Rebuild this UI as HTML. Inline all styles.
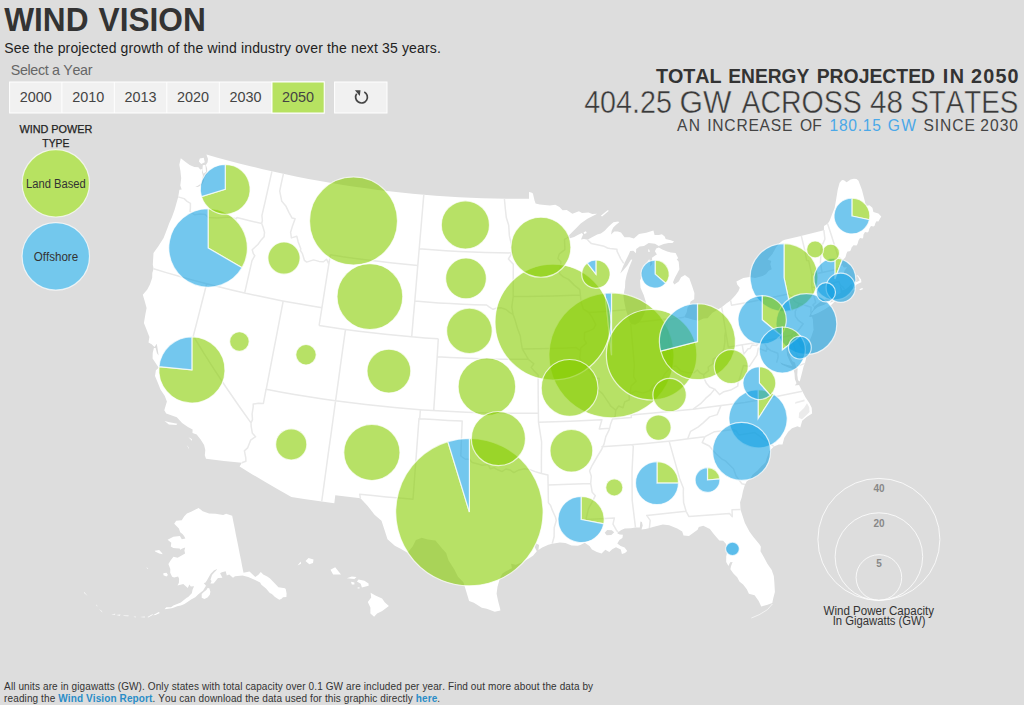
<!DOCTYPE html>
<html><head><meta charset="utf-8"><title>Wind Vision</title>
<style>
html,body{margin:0;padding:0;}
body{width:1024px;height:705px;overflow:hidden;background:#dddddd;font-family:"Liberation Sans",sans-serif;position:relative;}
svg{position:absolute;left:0;top:0;display:block;}
text{font-family:"Liberation Sans",sans-serif;font-kerning:none;}
</style></head><body>
<svg width="1024" height="705" viewBox="0 0 1024 705" xmlns="http://www.w3.org/2000/svg">
<!-- land -->
<path d="M180.8 158.2L185.6 161.9L189.7 165.0L194.3 167.1L198.4 167.2L200.2 169.6L202.1 169.0L202.1 172.5L202.9 175.5L202.3 179.9L200.5 184.0L197.4 185.9L195.2 186.8L197.7 186.9L201.8 185.0L203.7 181.3L204.4 177.8L207.3 173.4L207.1 168.4L205.9 165.0L207.6 162.2L208.0 159.0L206.4 154.5L217.6 157.7L228.8 160.7L240.1 163.7L251.5 166.5L262.8 169.2L274.2 171.8L285.6 174.3L297.0 176.7L308.5 178.9L320.0 181.0L331.5 183.0L343.0 184.9L354.5 186.7L366.1 188.3L377.7 189.9L389.2 191.3L400.8 192.6L412.5 193.7L424.1 194.8L435.7 195.7L447.4 196.5L459.0 197.2L470.7 197.7L482.3 198.2L494.0 198.5L505.7 198.7L517.4 198.8L529.0 198.7L529.0 192.1L531.3 192.4L532.9 193.4L534.6 200.8L535.6 203.6L539.8 204.6L544.6 205.0L549.9 205.4L555.3 204.7L559.5 206.9L562.6 210.3L566.8 210.1L572.4 213.7L578.9 211.3L582.0 212.9L588.5 212.5L592.3 214.1L597.1 213.7L595.3 214.7L587.4 218.8L580.7 223.6L576.1 228.3L571.8 232.6L567.9 236.6L566.8 238.1L569.2 238.4L574.1 237.1L577.7 234.9L581.9 233.1L583.1 234.5L581.0 239.6L584.0 238.9L587.5 239.7L592.5 237.1L597.2 234.5L600.8 233.4L604.4 231.0L608.9 226.2L613.4 222.3L618.2 221.5L619.3 222.3L616.1 224.7L613.3 227.6L611.7 230.8L611.1 234.5L614.2 231.5L617.9 231.5L621.0 232.6L624.5 237.3L629.5 237.2L633.9 238.6L639.0 234.1L646.3 232.8L653.4 230.4L654.6 235.1L658.9 235.1L661.9 234.2L664.7 236.6L665.7 239.1L670.8 240.3L674.1 241.6L672.4 243.1L668.6 243.1L663.7 243.9L658.7 245.9L655.0 243.7L648.7 243.1L644.0 245.9L639.7 246.6L636.2 249.1L636.0 253.2L633.3 250.8L630.2 251.1L628.6 254.8L624.4 263.3L622.8 267.0L620.2 273.5L623.1 270.5L627.1 265.7L631.0 259.4L632.3 259.8L629.2 267.3L626.7 274.7L625.3 281.1L625.0 287.4L623.4 295.6L624.1 301.0L625.9 310.0L628.1 316.8L629.5 321.2L631.1 324.1L635.1 324.7L638.9 322.7L639.9 321.9L643.5 315.4L645.9 309.7L646.2 303.0L643.7 295.0L640.5 287.8L640.0 280.6L642.1 275.9L642.4 270.0L643.9 265.0L647.1 262.8L649.2 259.0L650.3 263.4L649.8 266.7L652.3 264.0L652.0 257.8L655.1 255.6L656.9 254.5L654.9 251.2L656.2 248.4L658.8 247.5L662.3 249.4L667.2 251.5L670.9 252.5L675.6 253.1L678.2 258.2L676.7 259.3L678.7 261.7L679.4 269.3L677.6 272.7L675.0 277.5L673.0 282.3L674.3 284.4L678.7 281.5L681.1 277.2L684.9 274.9L689.3 278.3L692.1 286.0L694.4 292.9L694.2 299.3L690.6 301.6L689.7 304.8L687.5 307.5L686.8 312.1L684.1 317.3L688.3 318.2L692.4 319.5L694.5 320.1L698.6 320.8L703.6 318.4L707.6 318.2L712.2 312.9L718.3 309.2L721.7 307.2L726.6 303.3L730.6 300.4L735.2 295.6L738.4 291.2L739.8 287.7L737.2 284.5L736.4 281.4L743.3 278.1L749.6 276.9L755.1 278.1L762.6 276.0L766.1 274.0L768.7 270.7L771.7 269.2L770.3 264.0L771.3 261.1L767.7 259.6L772.4 254.1L776.1 247.2L779.1 243.4L782.4 240.7L784.8 239.8L797.8 236.7L810.9 233.5L823.9 230.2L824.0 225.9L827.6 223.7L829.5 221.0L832.0 214.5L834.7 207.7L836.1 199.7L837.7 189.8L839.6 182.8L842.0 179.9L844.0 180.2L846.6 182.2L850.6 179.5L853.9 178.7L856.5 179.0L858.5 180.8L861.9 189.8L864.5 199.7L865.9 206.1L869.4 205.3L872.4 207.7L873.4 212.0L878.4 213.6L881.3 216.6L879.5 219.5L878.4 221.6L876.5 221.2L875.4 223.1L874.6 225.8L873.4 226.5L871.0 226.0L869.4 228.5L868.6 231.5L867.4 232.5L865.0 232.0L863.5 234.5L863.2 237.5L862.5 238.4L860.0 238.0L858.5 240.4L857.5 244.0L856.5 245.4L853.5 245.2L851.6 247.4L850.6 250.5L849.6 251.3L847.5 251.5L846.6 253.3L845.5 257.0L844.6 258.3L842.0 260.3L842.1 264.7L843.8 267.4L847.1 267.3L844.6 270.6L843.5 274.0L848.0 275.6L850.5 279.6L853.6 282.0L856.7 282.1L859.7 280.5L857.9 276.6L855.6 275.9L857.8 275.3L861.1 279.4L861.4 282.3L857.0 284.3L852.6 287.4L851.6 283.5L848.4 287.0L845.6 289.3L842.5 290.6L841.3 287.6L839.7 285.2L840.4 288.8L840.7 293.0L836.1 295.3L833.0 296.3L828.0 298.1L823.0 299.7L819.5 302.4L814.3 306.5L813.1 310.1L811.5 311.8L810.8 312.9L810.0 314.5L809.2 316.9L812.0 316.8L812.9 319.7L813.2 325.2L813.6 329.7L812.0 334.7L811.0 337.6L808.3 343.0L806.0 346.6L804.6 342.3L800.9 341.3L796.2 339.2L794.9 336.4L795.2 339.4L798.3 342.4L800.0 346.7L803.2 348.7L804.4 349.4L806.2 355.4L806.1 358.2L805.0 363.1L803.6 366.5L801.7 373.9L799.7 381.4L798.0 380.2L797.3 374.9L797.6 368.4L795.8 366.6L795.0 362.5L792.5 361.2L790.3 357.1L790.2 353.4L788.5 350.1L789.2 345.3L789.6 340.7L788.5 339.0L786.8 344.0L785.8 346.0L786.7 350.1L787.0 355.0L789.6 360.9L792.2 366.0L788.5 365.3L783.2 363.7L780.1 362.3L782.0 364.8L789.0 367.8L793.5 369.2L794.5 373.6L794.9 379.1L796.5 383.3L794.8 385.5L799.0 385.0L802.3 391.3L805.3 397.1L809.6 403.5L811.7 407.7L812.1 413.5L806.6 417.0L802.2 420.7L800.3 427.6L797.5 426.3L792.0 428.3L788.2 431.8L784.2 438.1L782.5 444.5L778.8 444.6L773.9 446.5L769.5 450.9L766.9 457.8L765.5 462.6L761.6 466.0L757.8 470.3L752.5 474.8L750.2 478.8L746.8 481.2L745.0 484.6L743.0 490.9L741.7 497.4L740.1 502.2L740.5 509.4L742.1 514.6L744.9 523.1L749.4 531.5L753.4 537.1L759.4 544.3L760.9 546.7L760.5 551.3L763.8 557.0L767.4 563.7L771.7 570.1L773.8 576.0L774.4 583.1L774.9 592.0L773.2 598.5L772.3 603.1L767.6 604.8L761.2 606.4L758.7 600.9L754.6 595.3L748.9 593.8L746.8 589.3L743.1 584.5L739.4 581.5L737.2 577.3L733.4 573.4L730.4 569.3L730.9 566.6L732.6 561.9L730.2 562.2L728.4 566.0L726.2 561.9L726.2 556.5L727.4 550.9L726.1 543.9L723.2 540.7L719.3 540.4L713.7 534.0L709.9 529.1L703.3 525.8L698.8 526.9L697.6 529.7L689.0 536.1L683.5 535.5L682.2 531.5L677.2 528.5L669.2 525.2L662.9 524.6L653.9 526.7L649.4 528.0L645.6 529.1L641.5 529.6L642.7 525.6L641.9 522.0L640.4 521.6L639.8 527.6L635.5 527.6L630.9 528.3L624.8 528.4L621.3 529.9L618.1 532.3L617.4 533.4L619.8 534.5L622.9 534.8L622.4 537.9L619.4 539.9L617.3 543.6L620.6 546.1L624.6 547.6L627.2 550.9L625.0 552.9L621.9 554.0L620.8 549.6L616.0 547.3L612.2 549.3L609.3 552.1L605.3 549.7L601.6 553.5L596.8 552.0L592.0 549.5L589.5 546.1L584.7 542.7L580.9 544.7L577.8 545.7L571.6 545.4L565.4 543.1L559.9 542.4L552.2 543.8L548.4 544.8L542.2 547.6L538.4 550.0L539.1 545.0L536.0 543.2L534.5 546.8L536.8 551.2L533.0 555.7L528.3 558.8L520.5 562.9L515.8 564.7L511.1 563.8L511.9 568.2L506.4 570.9L502.4 573.5L500.0 577.9L497.5 586.7L496.6 593.8L498.1 600.9L500.1 608.5L500.4 610.5L494.7 611.8L486.7 608.7L481.8 607.7L473.9 602.7L469.1 601.1L466.7 593.1L463.4 582.3L458.0 576.8L454.4 569.5L448.5 560.3L446.2 553.1L442.1 548.4L435.5 540.6L427.8 539.6L421.8 537.8L415.9 539.9L412.6 546.6L407.5 552.8L401.5 549.3L394.8 545.8L387.5 539.2L385.1 531.8L381.5 520.7L374.5 514.7L367.7 505.9L360.5 498.3L347.9 496.8L335.3 495.2L334.3 503.2L320.0 501.3L305.7 499.2L291.4 497.0L278.2 489.6L265.3 482.1L252.4 474.4L239.6 466.6L241.8 462.8L223.9 460.9L206.0 458.7L204.8 455.3L205.3 449.9L204.1 445.0L200.8 439.7L196.7 434.6L192.5 433.1L192.6 429.4L187.9 427.0L182.1 423.1L176.8 417.2L166.2 413.5L164.3 410.2L166.9 401.6L164.8 396.0L160.5 389.5L157.7 382.4L155.0 376.0L155.9 370.3L158.8 367.7L156.4 364.3L152.6 358.5L152.7 352.9L153.9 348.0L155.6 348.1L157.0 353.2L158.6 355.5L157.6 348.7L156.8 343.8L154.5 346.9L151.6 344.2L148.5 342.4L149.4 337.0L146.1 328.5L143.9 323.1L145.4 314.2L146.6 308.0L144.9 301.8L142.8 294.8L147.3 289.4L149.9 284.6L152.2 277.8L152.3 273.1L153.6 268.8L152.8 264.8L153.5 253.0L158.5 245.9L163.6 238.1L166.8 229.8L169.3 223.0L171.9 217.3L174.6 209.8L176.8 202.1L178.2 196.9L179.4 189.8L181.7 189.6L180.3 185.5L181.2 178.3L180.4 170.7L179.3 164.8L180.8 158.2ZM811.0 314.3L813.9 310.3L817.9 307.1L824.8 304.5L830.1 300.7L831.8 299.4L830.0 303.0L836.7 299.6L831.2 305.1L825.3 309.0L818.0 313.0L812.3 315.3ZM851.8 290.2L853.8 287.6L855.8 288.7L853.2 290.4ZM859.3 289.2L862.1 287.9L863.3 289.0L860.3 290.2ZM600.8 215.8L607.6 210.3L608.9 210.7L602.1 216.4ZM164.5 420.9L169.5 422.3L177.4 423.8L176.3 425.0L168.9 424.4ZM188.5 437.3L192.1 440.9L191.8 439.0ZM186.6 445.1L189.3 449.5L188.4 446.9ZM199.8 158.4L203.7 157.7L204.8 162.3L201.2 164.0L198.9 161.5ZM202.8 165.2L205.4 164.8L206.1 171.8L203.4 173.8L202.4 169.9ZM648.1 249.3L649.4 249.7L649.7 252.1L648.4 251.9ZM583.6 232.3L586.0 231.3L586.7 233.0L584.3 234.1ZM232.2 515.7L233.4 522.0L234.7 528.3L235.9 534.7L237.2 541.0L238.5 547.4L239.7 553.7L241.0 560.1L242.2 566.5L243.5 572.8L249.5 571.6L255.3 576.9L258.4 574.8L260.8 571.9L263.2 574.4L267.2 576.5L269.8 578.3L276.1 584.8L278.4 587.3L285.0 588.2L285.8 589.3L286.6 593.6L286.4 597.0L283.0 597.3L281.6 598.7L279.3 599.8L275.0 597.0L271.9 594.0L269.8 592.9L266.0 588.6L261.4 584.7L260.1 582.5L255.1 579.9L248.2 577.0L242.5 575.6L235.0 576.2L233.0 577.8L229.2 574.5L226.8 575.4L225.7 571.2L221.9 572.2L220.1 573.3L222.4 577.8L218.0 578.1L214.8 582.1L213.5 583.4L210.4 583.5L211.6 581.0L210.5 579.8L212.0 575.0L214.6 572.1L216.0 570.7L217.1 569.1L213.9 570.5L210.7 573.8L208.7 577.3L206.9 580.5L205.3 582.7L203.7 583.0L206.0 585.8L203.1 590.5L198.4 594.2L195.3 597.2L191.1 599.5L188.6 601.3L184.5 604.1L180.8 605.6L177.2 606.2L172.7 607.9L170.1 608.4L164.5 609.2L166.3 607.2L171.0 607.3L173.4 605.4L177.1 604.0L180.8 602.5L186.7 597.7L188.2 596.9L191.8 593.3L192.6 589.6L194.1 586.2L190.8 586.4L189.4 584.4L187.8 588.1L183.3 583.9L177.5 585.5L178.9 582.8L179.1 578.7L178.1 576.4L174.2 577.5L172.1 576.8L170.2 572.7L170.3 568.9L168.4 564.1L170.9 560.1L173.5 556.8L177.6 557.7L181.6 555.4L185.1 553.5L184.4 550.4L185.2 547.6L182.4 548.6L180.1 549.8L179.7 548.5L175.7 548.3L173.3 547.9L170.8 546.5L171.3 542.7L167.6 539.8L173.4 536.8L179.9 536.0L181.8 539.2L185.4 538.6L184.2 536.2L182.7 534.2L180.2 532.3L178.9 528.4L174.2 523.7L176.2 520.7L181.8 520.3L184.1 516.6L186.9 513.4L191.1 511.8L198.6 507.9L202.7 511.2L209.1 513.5L215.5 513.8L223.2 515.1L226.1 513.8ZM209.3 588.3L210.4 591.7L209.8 594.8L207.5 597.4L204.4 599.0L201.7 597.7L201.7 594.0L204.1 591.8L206.4 589.9L207.6 588.0ZM163.3 573.3L166.5 572.7L168.0 574.9L166.4 576.5L163.5 575.3ZM154.7 550.7L159.2 550.0L162.2 553.3L162.5 554.3L159.2 553.5L155.1 551.5ZM146.4 567.2L148.3 568.4L147.2 568.8ZM152.9 615.2L158.8 612.0L159.8 613.1L155.6 615.1ZM147.5 616.9L152.8 613.9L152.6 615.1L148.2 617.4ZM140.1 617.0L144.9 616.6L144.7 617.5ZM133.4 616.8L135.9 616.5L135.6 617.4ZM123.0 615.5L128.7 615.4L128.4 616.2L124.0 616.1ZM116.1 615.1L120.4 614.6L120.0 615.8ZM111.1 614.2L115.4 613.8L115.0 614.7ZM102.5 612.4L98.9 608.9L101.8 611.1ZM97.6 606.2L96.3 604.3L96.7 606.2ZM87.7 595.9L83.9 591.7L84.1 592.9ZM370.6 592.8L375.4 595.5L382.1 598.5L384.7 602.3L388.9 606.0L382.2 610.9L377.1 613.6L374.1 616.8L370.4 613.6L370.4 607.4L367.8 602.1L371.2 597.6ZM356.9 581.4L358.5 579.4L364.4 580.8L368.6 583.5L368.6 585.8L361.9 587.4L360.7 583.8ZM346.8 578.2L351.8 576.4L356.5 577.1L354.4 579.1ZM351.0 581.7L354.4 582.6L354.4 584.4L351.8 584.4ZM356.9 587.9L359.4 587.0L359.4 588.8ZM330.5 569.8L335.2 567.3L341.0 574.6L336.0 574.6L333.1 574.6ZM305.5 561.1L308.5 558.0L313.5 559.4L313.0 563.0L309.3 564.3ZM297.6 565.4L300.7 561.6L301.0 563.7Z" fill="#ffffff" stroke="none"/>
<path d="M604.7 532.8L607.2 529.9L611.8 530.2L614.2 532.2L611.3 535.1L606.7 535.3Z" fill="#dddddd"/><path d="M807.0 403.2L804.0 408.0L799.1 412.7L798.7 417.8L801.9 419.3L805.0 416.5L809.5 412.0L809.2 407.3ZM804.3 399.5L795.4 402.1L795.0 403.7L804.7 401.3Z" fill="#dddddd" fill-opacity="0.6"/>
<path d="M772.4 604.0L767.5 609.6L759.2 614.7L751.4 618.0" fill="none" stroke="#ffffff" stroke-width="0.9" stroke-opacity="0.7"/>
<!-- state borders -->
<path d="M178.2 196.9L184.1 198.6L187.1 201.4L190.4 203.3L190.4 207.9L190.0 211.5L194.9 214.8L200.3 213.9L205.3 214.5L208.4 217.6L217.2 218.1L223.8 217.6L229.1 217.1L236.3 218.8L236.9 217.6L248.7 220.5L261.7 223.5M271.9 171.3L268.6 186.1L265.3 200.8L261.9 215.7L262.4 220.5L261.7 223.5M261.7 223.5L262.8 226.4L264.5 232.3L264.1 236.8L260.7 240.6L257.9 244.5L252.2 249.7L253.3 253.6L254.8 255.7L252.0 260.6L248.3 276.8L244.7 292.9M153.6 268.8L166.3 272.6L179.1 276.3L191.9 279.9L204.8 283.3L217.7 286.5L230.6 289.7L243.5 292.7L256.5 295.5L269.6 298.3L282.6 300.9L295.7 303.3L308.8 305.6L321.9 307.8M206.7 283.8L202.2 301.2L197.8 318.6L193.3 336.0L204.1 353.6L215.3 371.1L226.9 388.5L238.8 405.8L251.0 422.9M251.0 422.9L251.2 426.6L252.4 433.3L255.6 436.7L250.6 440.2L247.6 447.9L244.4 450.9L245.8 458.0L245.9 461.3L241.8 462.8M251.0 422.9L252.5 419.6L252.1 414.0L253.2 406.9L253.2 404.1L258.3 403.3L263.4 403.4L266.1 389.2M283.2 301.0L279.8 318.6L276.4 336.3L273.0 353.9L269.6 371.6L266.2 389.3M266.1 389.2L280.2 391.9L294.4 394.4L308.7 396.7L322.9 398.9L337.2 400.9L351.5 402.8L365.8 404.5L380.1 406.1L394.5 407.5L408.8 408.8L423.2 409.9L437.6 410.8L452.0 411.6L466.4 412.3L480.8 412.8L495.2 413.1L509.6 413.3L524.0 413.3L538.4 413.2M335.6 400.7L338.1 382.9L340.5 365.1L343.0 347.2L345.5 329.4M319.1 325.5L332.2 327.5L345.5 329.4L358.7 331.2L371.9 332.8L385.2 334.3L398.4 335.6L411.7 336.8L425.0 337.9L438.3 338.8M319.1 325.5L321.9 307.8L324.7 290.1L327.5 272.4L330.4 254.7M330.4 254.7L342.8 256.7L355.3 258.4L367.7 260.1L380.2 261.6L392.7 263.0L405.3 264.3L417.8 265.4M283.4 173.8L281.5 182.4L279.7 191.1L281.8 201.3L285.8 205.9L288.9 212.3L292.1 218.1L295.1 218.7L292.4 226.3L290.6 232.3L291.4 237.9L296.8 236.2L298.2 241.9L300.8 248.7L300.4 250.5L302.4 253.6L304.4 260.3L306.7 262.1L313.5 259.9L319.0 261.4L323.5 261.8L326.5 259.2L328.9 264.1M423.8 194.7L422.3 212.3L420.8 230.0L419.3 247.7L417.8 265.4L416.3 283.2L414.8 301.1L413.2 318.9L411.7 336.8M419.2 248.7L432.4 249.8L445.7 250.7L458.9 251.4L472.2 252.0L485.5 252.5L498.7 252.8L512.0 252.9M414.8 301.1L426.7 302.0L438.7 302.9L450.6 303.6L462.6 304.2L474.6 304.7L486.6 305.0L489.1 306.9L493.0 309.3L496.9 308.0L500.8 307.7L506.0 309.5L509.8 312.6L513.1 314.4M438.3 338.8L437.2 356.7L436.0 374.7L434.9 392.6L433.7 410.6M437.2 356.7L450.2 357.5L463.2 358.1L476.3 358.6L489.3 359.0L502.3 359.2L515.4 359.3L528.4 359.3M335.6 400.7L333.3 417.5L331.0 434.4L328.6 451.2L326.3 468.0L324.0 484.8L321.7 501.5M420.4 409.7L419.7 418.7L419.0 418.6L417.8 434.7L416.6 450.9L415.4 467.0L414.2 483.1L413.0 499.2L399.7 498.1L386.3 496.9L372.9 495.6L359.6 494.2L360.5 498.3M419.7 418.7L433.9 419.6L448.0 420.4L462.2 421.1L461.5 438.5L460.8 456.0L465.0 459.0L469.4 459.2L472.2 462.5L478.0 464.0L482.3 465.3L488.2 464.6L490.3 468.8L494.0 467.6L497.7 469.8L502.0 471.6L505.8 469.0L510.1 469.9L513.8 472.6L519.0 469.9L524.8 468.7L529.2 469.4L535.1 471.6L541.4 473.5M541.4 473.5L541.4 458.1L541.6 441.9L538.5 422.2L538.4 413.2M541.4 473.5L547.9 475.0L548.1 484.5L548.4 502.8L550.6 505.4L552.2 509.9L555.4 517.0L556.3 520.5L554.2 527.7L554.1 536.7L552.2 543.8M548.1 484.9L562.3 484.5L576.5 484.0L590.7 483.4M559.4 273.5L563.3 276.9L568.5 279.4L574.5 285.4L579.8 289.6L580.4 295.0L581.1 302.1L583.4 309.2L588.8 312.5L592.3 317.7L595.8 324.6L593.7 328.7L590.4 330.4L584.6 332.5L584.3 339.7L586.5 343.2L580.7 348.0L580.6 351.0L579.8 357.9L582.1 363.2L585.6 365.7L591.5 373.5L593.1 377.6L599.4 378.5L599.1 381.5L597.3 389.4L602.4 393.6L610.1 404.8L610.2 405.7L615.7 410.2L615.2 416.2L612.5 419.1L610.7 423.7L609.6 428.3L609.0 430.1L605.8 436.6L604.1 443.9L601.6 449.5L597.6 456.0L592.2 465.3L589.6 470.9L591.3 476.2L590.7 483.4L592.2 492.3L595.3 495.7L592.6 501.2L588.5 508.6L585.9 519.5M585.9 519.5L614.4 517.9L613.0 524.2L616.4 530.2L618.1 532.3M609.6 428.3L599.3 428.9L601.9 419.8L586.1 420.6L570.2 421.3L554.4 421.8L538.5 422.2M538.4 413.2L538.2 395.2L538.1 375.0L534.0 370.9L531.2 367.4L533.9 363.8L528.4 359.3L522.3 348.9L521.0 341.4L520.3 336.0L517.6 328.8L515.0 319.8L513.1 314.4M513.1 314.4L511.8 307.2L513.2 296.5L513.3 264.3L508.4 259.0L512.0 252.9L511.6 245.6L509.4 235.9L508.7 225.2L506.3 217.6L505.2 207.5L504.4 198.7M513.2 296.5L526.6 296.5L540.1 296.3L553.5 296.0L567.0 295.6L580.4 295.0M522.3 348.9L535.8 348.8L549.3 348.6L562.8 348.2L576.2 347.6L580.6 351.0M566.8 238.1L564.5 239.3L564.9 249.6L559.3 253.9L557.9 258.4L560.9 261.8L559.9 269.0L559.4 273.5M588.8 312.5L601.1 311.7L613.5 310.8L625.9 309.8M630.7 323.8L632.6 345.3L634.4 365.9L633.9 370.4L633.7 376.8L636.2 381.1L631.1 386.0L630.2 392.4L629.0 394.3M615.7 410.2L618.7 406.0L623.0 407.8L624.7 401.9L629.4 399.7L629.0 394.3L635.7 391.1L642.9 393.1L649.6 390.7L653.3 385.8L660.0 382.9L664.6 374.1L671.7 366.5L676.1 366.0L680.8 370.9L687.3 372.8L693.6 372.8L697.4 370.0L699.9 372.9L703.6 374.7L708.6 370.7L708.1 367.2L713.1 363.7L713.2 359.1L715.7 357.5L720.0 354.4L723.8 349.3L724.9 341.8L724.9 335.4L725.6 331.0M721.7 307.2L725.0 327.2L728.3 347.3M728.3 347.3L740.9 345.1L753.6 342.9L766.2 340.5L778.8 338.0L791.4 335.3M742.2 344.9L743.8 354.1L748.1 348.8L750.1 348.4L752.1 345.0L756.5 345.4L759.4 342.5L764.4 343.0L767.1 347.6L770.7 350.6L774.5 352.0L777.7 353.2L778.2 356.8L776.6 362.6M671.7 366.5L669.9 351.1L668.1 335.6L666.3 320.1M639.9 321.9L666.1 319.0L666.3 320.1L684.1 317.3M612.5 419.1L631.4 417.6L631.1 414.9L653.3 412.9L674.5 411.1L693.1 409.2L709.6 406.9L721.1 405.4L744.8 402.4L772.7 397.3L802.3 391.3M693.1 409.2L700.6 403.7L705.6 398.4L710.6 394.1L714.6 389.1L709.6 387.0L706.2 382.9L704.2 378.6L703.6 374.7M714.6 389.1L719.5 394.6L723.8 391.7L730.6 390.1L737.8 386.2L738.0 383.4L740.8 374.7L743.4 365.5L749.4 366.3L753.4 360.3L756.9 355.1L758.4 348.2L766.2 351.3L767.1 347.6M601.4 446.8L616.2 445.8L631.1 444.7L645.9 443.4L660.7 442.0L675.5 440.4L690.2 438.6L705.0 436.7M687.6 439.1L690.6 431.3L698.0 427.2L703.2 422.9L709.6 416.9L717.2 414.6L721.1 405.4M705.0 436.7L702.2 442.5L709.3 446.0L715.5 453.3L721.5 458.8L725.5 460.9L733.5 468.8L736.0 475.7L741.9 483.8L745.0 484.6M705.0 436.7L714.6 431.7L734.0 429.6L734.3 431.4L735.9 430.3L738.8 434.9L754.8 432.6L773.9 446.5M631.7 444.7L633.3 446.3L632.0 471.7L632.2 500.4L635.5 527.6M669.2 441.4L679.6 478.4L683.4 488.2L683.3 493.6L683.6 502.6L686.1 511.3M649.4 528.0L650.2 520.4L646.7 515.4L686.1 511.3L688.8 516.4L709.6 514.9L729.5 513.6L732.3 516.8L732.0 509.7L740.5 509.4M796.0 332.8L793.4 332.7L791.4 335.3L794.6 347.9L797.4 357.2L806.2 355.4M796.9 366.3L800.2 365.1L805.1 363.4M794.9 336.4L796.0 332.8L799.2 329.3L803.2 323.8L798.3 320.3L795.4 316.4L795.2 311.5L799.3 303.5L796.3 302.4L793.8 300.2L793.0 296.7L788.2 294.1L774.1 297.1L759.9 300.0L745.7 302.7L731.5 305.2L730.6 300.4M799.3 303.5L811.1 307.2L810.8 312.9M814.3 306.5L812.9 305.0L815.7 302.5L811.8 287.7L811.8 274.8L808.7 260.8L806.6 260.4L804.7 249.8L801.3 235.9M822.1 272.6L820.4 262.5L820.9 254.0L821.2 247.5L824.9 239.1L824.4 234.7L823.8 230.0M811.8 274.8L822.1 272.6L836.9 269.3L837.3 268.4L839.9 265.4L842.1 264.7M811.8 287.7L833.6 282.8L839.0 281.4L839.5 283.4L840.7 285.4L842.9 286.8L844.7 289.5M833.6 282.8L836.4 293.2L836.1 295.3M827.6 223.7L831.2 234.7L835.8 249.2L838.0 257.0L840.5 258.7L842.3 261.0M587.5 239.7L591.4 243.6L604.2 246.3L607.5 248.0L610.0 248.5L616.9 249.2L617.1 251.4L620.9 259.1L623.7 263.3" fill="none" stroke="#e9e9e9" stroke-width="1.5" stroke-linejoin="round"/>
<!-- bubbles -->
<g fill-opacity="0.58" stroke="#ffffff" stroke-opacity="0.72" stroke-width="1.2">
<path d="M469.40 512.10L469.40 438.40A73.70 73.70 0 1 1 447.85 441.62Z" fill="#87cd00" fill-opacity="0.6"/><path d="M469.40 512.10L447.85 441.62A73.70 73.70 0 0 1 469.40 438.40Z" fill="#0e9ee2"/>
<path d="M611.50 355.30L611.50 292.80A62.50 62.50 0 1 1 604.97 293.14Z" fill="#87cd00" fill-opacity="0.6"/><path d="M611.50 355.30L604.97 293.14A62.50 62.50 0 0 1 611.50 292.80Z" fill="#0e9ee2"/>
<circle cx="552.9" cy="322.1" r="57.9" fill="#87cd00" fill-opacity="0.6"/>
<circle cx="651.6" cy="354.75" r="45.25" fill="#87cd00" fill-opacity="0.6"/>
<circle cx="353.5" cy="221" r="44" fill="#87cd00" fill-opacity="0.6"/>
<path d="M208.10 248.00L208.10 208.70A39.30 39.30 0 0 1 242.13 267.65Z" fill="#87cd00" fill-opacity="0.6"/><path d="M208.10 248.00L242.13 267.65A39.30 39.30 0 1 1 208.10 208.70Z" fill="#0e9ee2"/>
<path d="M697.50 341.60L697.50 303.60A38.00 38.00 0 1 1 660.71 351.11Z" fill="#87cd00" fill-opacity="0.6"/><path d="M697.50 341.60L660.71 351.11A38.00 38.00 0 0 1 697.50 303.60Z" fill="#0e9ee2"/>
<path d="M784.00 277.50L784.00 243.60A33.90 33.90 0 0 1 791.05 310.66Z" fill="#87cd00" fill-opacity="0.6"/><path d="M784.00 277.50L791.05 310.66A33.90 33.90 0 1 1 784.00 243.60Z" fill="#0e9ee2"/>
<path d="M191.90 369.90L191.90 336.80A33.10 33.10 0 1 1 158.96 366.61Z" fill="#87cd00" fill-opacity="0.6"/><path d="M191.90 369.90L158.96 366.61A33.10 33.10 0 0 1 191.90 336.80Z" fill="#0e9ee2"/>
<circle cx="369.9" cy="296.6" r="32.9" fill="#87cd00" fill-opacity="0.6"/>
<circle cx="806.4" cy="324" r="30.4" fill="#0e9ee2"/>
<circle cx="540.9" cy="247.25" r="30" fill="#87cd00" fill-opacity="0.6"/>
<path d="M758.10 418.75L758.10 389.65A29.10 29.10 0 0 1 773.86 394.29Z" fill="#87cd00" fill-opacity="0.6"/><path d="M758.10 418.75L773.86 394.29A29.10 29.10 0 1 1 758.10 389.65Z" fill="#0e9ee2"/>
<circle cx="741.6" cy="451.4" r="29.0" fill="#0e9ee2"/>
<circle cx="486.9" cy="386.75" r="28.8" fill="#87cd00" fill-opacity="0.6"/>
<circle cx="569.6" cy="387.9" r="28.4" fill="#87cd00" fill-opacity="0.6"/>
<circle cx="371.9" cy="452.4" r="28.1" fill="#87cd00" fill-opacity="0.6"/>
<circle cx="498.4" cy="438.6" r="27.1" fill="#87cd00" fill-opacity="0.6"/>
<path d="M225.25 189.30L225.25 164.40A24.90 24.90 0 1 1 201.44 196.58Z" fill="#87cd00" fill-opacity="0.6"/><path d="M225.25 189.30L201.44 196.58A24.90 24.90 0 0 1 225.25 164.40Z" fill="#0e9ee2"/>
<circle cx="465.4" cy="224.9" r="24.1" fill="#87cd00" fill-opacity="0.6"/>
<path d="M762.20 319.80L762.20 295.70A24.10 24.10 0 0 1 780.66 335.29Z" fill="#87cd00" fill-opacity="0.6"/><path d="M762.20 319.80L780.66 335.29A24.10 24.10 0 1 1 762.20 295.70Z" fill="#0e9ee2"/>
<path d="M581.10 519.50L581.10 496.40A23.10 23.10 0 0 1 603.79 523.81Z" fill="#87cd00" fill-opacity="0.6"/><path d="M581.10 519.50L603.79 523.81A23.10 23.10 0 1 1 581.10 496.40Z" fill="#0e9ee2"/>
<path d="M782.30 350.00L782.30 327.00A23.00 23.00 0 0 1 800.42 335.84Z" fill="#87cd00" fill-opacity="0.6"/><path d="M782.30 350.00L800.42 335.84A23.00 23.00 0 1 1 782.30 327.00Z" fill="#0e9ee2"/>
<circle cx="469.4" cy="330.9" r="22.8" fill="#87cd00" fill-opacity="0.6"/>
<circle cx="388.9" cy="371.1" r="21.9" fill="#87cd00" fill-opacity="0.6"/>
<path d="M657.00 483.10L657.00 461.60A21.50 21.50 0 0 1 678.50 483.10Z" fill="#87cd00" fill-opacity="0.6"/><path d="M657.00 483.10L678.50 483.10A21.50 21.50 0 1 1 657.00 461.60Z" fill="#0e9ee2"/>
<circle cx="571.4" cy="450.7" r="21.4" fill="#87cd00" fill-opacity="0.6"/>
<path d="M834.90 279.00L834.90 258.10A20.90 20.90 0 0 1 842.39 259.49Z" fill="#87cd00" fill-opacity="0.6"/><path d="M834.90 279.00L842.39 259.49A20.90 20.90 0 1 1 834.90 258.10Z" fill="#0e9ee2"/>
<circle cx="466" cy="278.4" r="20.4" fill="#87cd00" fill-opacity="0.6"/>
<path d="M851.90 216.00L851.90 198.10A17.90 17.90 0 0 1 869.41 219.72Z" fill="#87cd00" fill-opacity="0.6"/><path d="M851.90 216.00L869.41 219.72A17.90 17.90 0 1 1 851.90 198.10Z" fill="#0e9ee2"/>
<circle cx="731.25" cy="366.6" r="17" fill="#87cd00" fill-opacity="0.6"/>
<circle cx="669.6" cy="395" r="16.7" fill="#87cd00" fill-opacity="0.6"/>
<path d="M759.40 383.10L759.40 366.70A16.40 16.40 0 0 1 770.37 395.29Z" fill="#87cd00" fill-opacity="0.6"/><path d="M759.40 383.10L770.37 395.29A16.40 16.40 0 1 1 759.40 366.70Z" fill="#0e9ee2"/>
<circle cx="284" cy="258.1" r="16.1" fill="#87cd00" fill-opacity="0.6"/>
<circle cx="291.25" cy="444.4" r="15.6" fill="#87cd00" fill-opacity="0.6"/>
<circle cx="840.7" cy="287.75" r="14.6" fill="#0e9ee2"/>
<path d="M595.90 274.10L595.90 259.90A14.20 14.20 0 1 1 587.16 262.91Z" fill="#87cd00" fill-opacity="0.6"/><path d="M595.90 274.10L587.16 262.91A14.20 14.20 0 0 1 595.90 259.90Z" fill="#0e9ee2"/>
<path d="M655.10 274.10L655.10 260.10A14.00 14.00 0 0 1 665.67 283.28Z" fill="#87cd00" fill-opacity="0.6"/><path d="M655.10 274.10L665.67 283.28A14.00 14.00 0 1 1 655.10 260.10Z" fill="#0e9ee2"/>
<circle cx="658.4" cy="427.6" r="12.7" fill="#87cd00" fill-opacity="0.6"/>
<path d="M707.50 480.00L707.50 467.60A12.40 12.40 0 0 1 719.85 478.92Z" fill="#87cd00" fill-opacity="0.6"/><path d="M707.50 480.00L719.85 478.92A12.40 12.40 0 1 1 707.50 467.60Z" fill="#0e9ee2"/>
<circle cx="799.9" cy="347.6" r="11.4" fill="#0e9ee2"/>
<circle cx="306" cy="354.75" r="10.25" fill="#87cd00" fill-opacity="0.6"/>
<circle cx="239.4" cy="341.5" r="9.8" fill="#87cd00" fill-opacity="0.6"/>
<circle cx="825.9" cy="292.3" r="9.6" fill="#0e9ee2"/>
<circle cx="830.8" cy="252.9" r="8.75" fill="#87cd00" fill-opacity="0.6"/>
<circle cx="614.3" cy="487.4" r="8.6" fill="#87cd00" fill-opacity="0.6"/>
<circle cx="815.1" cy="249.4" r="8.5" fill="#87cd00" fill-opacity="0.6"/>
<circle cx="732.5" cy="548.9" r="6.8" fill="#0e9ee2" fill-opacity="0.68"/>
</g>
<!-- size legend -->
<g fill="none" stroke="#ffffff" stroke-width="1" stroke-opacity="0.8">
<circle cx="878.9" cy="539.4" r="61"/><circle cx="878.9" cy="556.6" r="43.8"/><circle cx="878.9" cy="577.5" r="22.8"/>
</g>
<g font-size="10" fill="#888888" text-anchor="middle" font-weight="bold">
<text x="879" y="491.6">40</text><text x="879" y="526.9">20</text><text x="879" y="567.4">5</text>
</g>
<g font-size="12" fill="#333333">
<text x="823.5" y="615.2" textLength="110.5" lengthAdjust="spacingAndGlyphs">Wind Power Capacity</text>
<text x="832.7" y="625.4" textLength="92.8" lengthAdjust="spacingAndGlyphs">In Gigawatts (GW)</text>
<text x="19.4" y="133" font-size="11.4" textLength="73" lengthAdjust="spacingAndGlyphs" fill="#222222" stroke="#222222" stroke-width="0.25">WIND POWER</text>
<text x="42.3" y="146.9" font-size="11.4" textLength="27.2" lengthAdjust="spacingAndGlyphs" fill="#222222" stroke="#222222" stroke-width="0.25">TYPE</text>
</g>
<!-- type legend -->
<g stroke="#ffffff" stroke-opacity="0.7" stroke-width="1.2">
<circle cx="55.8" cy="183.3" r="33.7" fill="#b7e261"/><circle cx="55.8" cy="256.4" r="33.7" fill="#73c8ed"/>
</g>
<g font-size="12" fill="#333333">
<text x="26.1" y="188.2" textLength="59.6" lengthAdjust="spacingAndGlyphs">Land Based</text>
<text x="33.7" y="260.9" textLength="44.5" lengthAdjust="spacingAndGlyphs">Offshore</text>
</g>
<!-- header left -->
<text transform="translate(4.27,30.5) scale(0.9754,1)" font-size="32.4" font-weight="bold" fill="#333333">WIND</text><text transform="translate(98.58,30.5) scale(0.9765,1)" font-size="32.4" font-weight="bold" fill="#333333">VISION</text>
<text x="4.3" y="52.9" font-size="14" fill="#222222" textLength="436.5">See the projected growth of the wind industry over the next 35 years.</text>
<text x="10.7" y="74.7" font-size="14.3" fill="#666666" textLength="81.7">Select a Year</text>
<!-- year buttons -->
<g stroke="#ffffff" stroke-width="1" fill="#f1f1f1">
<rect x="9.6" y="82" width="314.6" height="31"/>
<rect x="271.8" y="82" width="52.4" height="31" fill="#b7e261"/>
<path d="M61.9 82V113M114.3 82V113M166.8 82V113M219.3 82V113M271.8 82V113" fill="none"/>
<rect x="334.6" y="82" width="52.4" height="31"/>
</g>
<g font-size="14.4" fill="#444444" text-anchor="middle">
<text x="35.8" y="101.6">2000</text><text x="88.2" y="101.6">2010</text><text x="140.6" y="101.6">2013</text><text x="193" y="101.6">2020</text><text x="245.5" y="101.6">2030</text><text x="298" y="101.6">2050</text>
</g>
<g fill="none" stroke="#454545" stroke-width="1.7">
<path d="M364.27 91.89A5.9 5.9 0 1 1 356.67 93.72"/><path d="M354.9 90.2L360.5 90.2L359.8 95.9Z" fill="#454545" stroke="none"/>
</g>
<!-- header right -->
<text transform="translate(655.88,82.6) scale(0.9977,1)" font-size="19.8" font-weight="bold" fill="#333333">TOTAL</text>
<text transform="translate(728.21,82.6) scale(0.9710,1)" font-size="19.8" font-weight="bold" fill="#333333">ENERGY</text>
<text transform="translate(816.70,82.6) scale(0.9792,1)" font-size="19.8" font-weight="bold" fill="#333333">PROJECTED</text>
<text x="942.85" y="82.6" font-size="19.8" font-weight="bold" fill="#333333" letter-spacing="1.300">IN</text>
<text x="971.11" y="82.6" font-size="19.8" font-weight="bold" fill="#333333" letter-spacing="1.150">2050</text>
<text transform="translate(584.14,113.3) scale(0.9267,1)" font-size="31" fill="#3a3a3a" stroke="#dddddd" stroke-width="0.45">404.25</text>
<text transform="translate(679.58,113.3) scale(0.9728,1)" font-size="31" fill="#3a3a3a" stroke="#dddddd" stroke-width="0.45">GW</text>
<text transform="translate(741.44,113.3) scale(0.9202,1)" font-size="31" fill="#3a3a3a" stroke="#dddddd" stroke-width="0.45">ACROSS</text>
<text transform="translate(870.02,113.3) scale(0.9561,1)" font-size="31" fill="#3a3a3a" stroke="#dddddd" stroke-width="0.45">48</text>
<text transform="translate(910.24,113.3) scale(0.8968,1)" font-size="31" fill="#3a3a3a" stroke="#dddddd" stroke-width="0.45">STATES</text>
<text x="676.94" y="130.5" font-size="15.6" fill="#444444" letter-spacing="1.300">AN</text>
<text x="707.26" y="130.5" font-size="15.6" fill="#444444" letter-spacing="0.765">INCREASE</text>
<text x="799.96" y="130.5" font-size="15.6" fill="#444444" letter-spacing="0.100">OF</text>
<text x="829.51" y="130.5" font-size="15.6" fill="#4aa8e8" letter-spacing="0.726">180.15</text>
<text x="887.86" y="130.5" font-size="15.6" fill="#4aa8e8" letter-spacing="1.300">GW</text>
<text x="923.39" y="130.5" font-size="15.6" fill="#444444" letter-spacing="0.951">SINCE</text>
<text x="980.32" y="130.5" font-size="15.6" fill="#444444" letter-spacing="0.997">2030</text>
<!-- footer -->
<g font-size="10" fill="#333333">
<text x="4.1" y="690" textLength="589">All units are in gigawatts (GW). Only states with total capacity over 0.1 GW are included per year. Find out more about the data by</text>
<text x="4.1" y="702.3" textLength="436">reading the <tspan font-weight="bold" fill="#2a8dc8">Wind Vision Report</tspan>. You can download the data used for this graphic directly <tspan font-weight="bold" fill="#2a8dc8">here</tspan>.</text>
</g>
</svg>
</body></html>
